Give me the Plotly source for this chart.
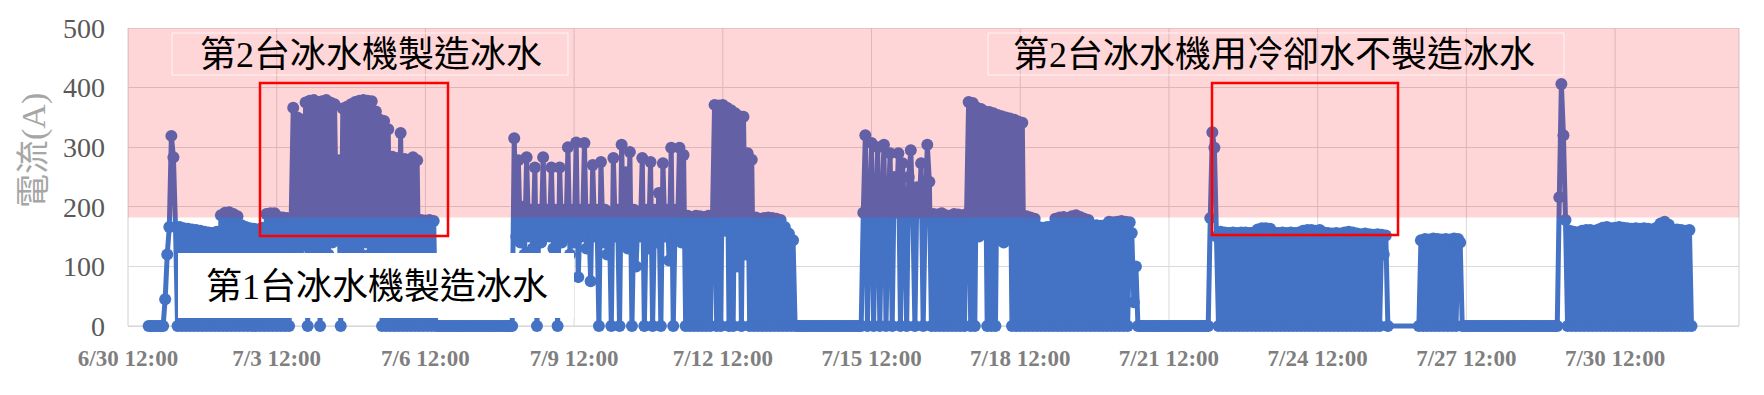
import pandas as pd
import plotly.graph_objects as go

# ---------------- data: hourly current (A) ----------------
# each list = one day of hourly readings (6/30 starts at 12:00); None = no data
d0630 = [None, None, None, None, None, None, None, None, None, None, 0, 0]
d0701 = [0, 0, 0, 0, 0, 0, 45, 120, 166, 319, 283, 166, 0, 166, 0, 164, 0, 163, 0, 162, 0, 161, 0, 160]
d0702 = [0, 158, 0, 157, 0, 156, 0, 158, 0, 186, 0, 190, 0, 191, 0, 188, 0, 184, 0, 169, 0, 166, 0, 164]
d0703 = [0, 163, 0, 162, 0, 165, 0, 188, 0, 189, 0, 189, 0, 183, 0, 182, 0, 181, 0, 180, 366, 120, 350, 130]
d0704 = [346, 140, 375, 0, 378, 120, 379, 110, 376, 0, 377, 130, 379, 120, 375, 140, 372, 150, 278, 0, 365, 130, 368, 120]
d0705 = [372, 130, 376, 110, 378, 120, 379, 140, 378, 120, 377, 130, 360, 100, 346, 0, 344, 0, 330, 0, 284, 0, 282, 0]
d0706 = [324, 0, 280, 0, 279, 0, 283, 0, 278, 0, 178, 0, 177, 0, 178, 0, 176, 0, 0, 0, 0, 0, 0, 0]
d0707 = [0, 0, 0, 0, 0, 0, 0, 0, 0, 0, 0, 0, 0, 0, 0, 0, 0, 0, 0, 0, 0, 0, 0, 0]
d0708 = [0, 0, 0, 0, 0, 0, 0, 315, 150, 278, 140, 200, 120, 283, 150, 195, 130, 266, 0, 195, 140, 283, 150, 195]
d0709 = [150, 266, 130, 195, 0, 266, 140, 195, 150, 300, 120, 195, 140, 308, 82, 195, 150, 307, 130, 195, 75, 270, 150, 195]
d0710 = [0, 275, 140, 195, 120, 190, 0, 282, 150, 195, 0, 304, 140, 258, 130, 292, 0, 195, 100, 190, 150, 282, 0, 195]
d0711 = [130, 275, 0, 195, 140, 223, 0, 273, 150, 195, 110, 299, 0, 195, 150, 299, 140, 287, 0, 185, 0, 183, 0, 185]
d0712 = [0, 184, 0, 183, 0, 185, 0, 184, 371, 0, 370, 0, 371, 160, 366, 0, 362, 0, 357, 100, 352, 0, 351, 120]
d0713 = [290, 0, 279, 0, 182, 0, 180, 0, 181, 0, 182, 0, 181, 0, 180, 0, 178, 0, 166, 0, 155, 0, 144, 0]
d0714 = [0, 0, 0, 0, 0, 0, 0, 0, 0, 0, 0, 0, 0, 0, 0, 0, 0, 0, 0, 0, 0, 0, 0, 0]
d0715 = [0, 0, 0, 0, 0, 0, 0, 0, 190, 320, 0, 190, 307, 0, 190, 300, 0, 195, 304, 0, 190, 290, 0, 250]
d0716 = [190, 290, 0, 273, 190, 0, 250, 295, 190, 0, 233, 190, 273, 0, 190, 304, 242, 0, 188, 0, 187, 0, 189, 0]
d0717 = [186, 0, 185, 0, 188, 0, 187, 0, 186, 0, 188, 376, 0, 374, 0, 366, 150, 364, 155, 360, 0, 359, 0, 357]
d0718 = [0, 354, 145, 352, 140, 350, 150, 348, 0, 346, 0, 343, 0, 341, 0, 184, 0, 182, 0, 180, 0, 166, 0, 165]
d0719 = [0, 166, 0, 167, 0, 180, 0, 182, 0, 183, 0, 181, 0, 184, 0, 186, 0, 183, 0, 180, 0, 178, 0, 169]
d0720 = [0, 169, 0, 168, 0, 169, 0, 175, 0, 174, 0, 175, 0, 176, 0, 175, 0, 174, 156, 40, 100, 0, 0, 0]
d0721 = [0, 0, 0, 0, 0, 0, 0, 0, 0, 0, 0, 0, 0, 0, 0, 0, 0, 0, 0, 0, 0, 0, 0, 0]
d0722 = [0, 0, 0, 0, 0, 0, 0, 0, 181, 325, 299, 150, 0, 158, 0, 157, 0, 156, 0, 157, 0, 156, 0, 157]
d0723 = [0, 157, 0, 156, 0, 157, 0, 162, 0, 164, 0, 164, 0, 163, 0, 157, 0, 156, 0, 157, 0, 156, 0, 157]
d0724 = [0, 156, 0, 157, 0, 160, 0, 161, 0, 161, 0, 160, 0, 161, 0, 157, 0, 156, 0, 155, 0, 156, 0, 155]
d0725 = [0, 157, 0, 158, 0, 157, 0, 155, 0, 154, 0, 155, 0, 154, 0, 153, 0, 154, 0, 153, 120, 152, 0, None]
d0726 = [None, None, None, None, None, None, None, None, None, None, None, None, None, 0, 144, 0, 146, 0, 145, 0, 147, 0, 146, 0]
d0727 = [145, 0, 146, 0, 145, 0, 147, 0, 146, 140, 0, 0, 0, 0, 0, 0, 0, 0, 0, 0, 0, 0, 0, 0]
d0728 = [0, 0, 0, 0, 0, 0, 0, 0, 0, 0, 0, 0, 0, 0, 0, 0, 0, 0, 0, 0, 0, 0, 0, 0]
d0729 = [0, 0, 0, 0, 0, 0, 0, 0, 0, 216, 406, 320, 178, 0, 160, 0, 158, 0, 157, 0, 160, 0, 161, 0]
d0730 = [161, 0, 160, 0, 162, 0, 165, 0, 166, 0, 164, 0, 165, 0, 166, 0, 165, 0, 164, 0, 163, 0, 164, 0]
d0731 = [163, 0, 164, 0, 163, 0, 162, 0, 165, 0, 172, 0, 175, 0, 170, 0, 161, 0, 162, 0, 161, 0, 160, 0]
d0801 = [161, 0]

tick_text = ["6/30 12:00", "7/3 12:00", "7/6 12:00", "7/9 12:00", "7/12 12:00", "7/15 12:00",
             "7/18 12:00", "7/21 12:00", "7/24 12:00", "7/27 12:00", "7/30 12:00"]
y_ticks = [0, 100, 200, 300, 400, 500]

label_2_make = "第2台冰水機製造冰水"
label_1_make = "第1台冰水機製造冰水"
label_2_cool = "第2台冰水機用冷卻水不製造冰水"
y_title = "電流(A)"

# ---------------- build series ----------------
days = [d0630, d0701, d0702, d0703, d0704, d0705, d0706, d0707, d0708, d0709, d0710,
        d0711, d0712, d0713, d0714, d0715, d0716, d0717, d0718, d0719, d0720, d0721,
        d0722, d0723, d0724, d0725, d0726, d0727, d0728, d0729, d0730, d0731, d0801]
values = [v for d in days for v in d]
start = pd.Timestamp("2023-06-30 12:00")
times = pd.date_range(start, periods=len(values), freq="h")
tick_vals = pd.date_range(start, periods=len(tick_text), freq="3D")
x_end = pd.Timestamp("2023-08-02 00:00")

# ---------------- layout geometry (pixels) ----------------
W, H = 1764, 395
PL, PR, PT = 128, 1739, 28
P0 = 326                      # pixel row of value 0 (visible frame bottom)
PPU = (P0 - PT) / 500.0       # pixels per ampere
EXTRA = 8                     # room below zero so the zero markers are not cut
PB = P0 + EXTRA               # bottom of the plotly plotting area
Y_LO, Y_HI = -EXTRA / PPU, 500


def fx(p):
    return (p - PL) / (PR - PL)


def fy(p):
    return (PB - p) / (PB - PT)


BLUE = "#4472C4"
GRID = "#D9D9D9"
FRAME = "#D0D0D0"
SERIF = "Liberation Serif, Noto Sans CJK TC"

fig = go.Figure()
fig.add_trace(go.Scatter(
    x=times, y=values, mode="lines+markers", connectgaps=True, cliponaxis=False,
    line=dict(color=BLUE, width=5, simplify=False),
    marker=dict(color=BLUE, size=12, line=dict(width=0)),
    showlegend=False, hoverinfo="skip",
))

shapes = []
# vertical grid lines limited to the 0..500 frame
for tv in tick_vals[1:]:
    shapes.append(dict(type="line", xref="x", yref="y", x0=tv, x1=tv, y0=0, y1=500,
                       line=dict(color=GRID, width=1), layer="below"))
# plot frame 0..500
shapes.append(dict(type="rect", xref="paper", yref="y", x0=0, x1=1, y0=0, y1=500,
                   fillcolor="rgba(0,0,0,0)", line=dict(color=FRAME, width=1), layer="below"))
shapes += [
    # pink translucent band over the high-current region
    dict(type="rect", xref="paper", yref="y", x0=0, x1=1, y0=182, y1=500,
         fillcolor="rgba(255,10,20,0.17)", line=dict(width=0), layer="above"),
    # white box behind the 1st chiller label
    dict(type="rect", xref="paper", yref="paper", x0=fx(178), x1=fx(574), y0=fy(318), y1=fy(253),
         fillcolor="white", line=dict(width=0), layer="above"),
    # faint frames of the top labels
    dict(type="rect", xref="paper", yref="paper", x0=fx(172), x1=fx(568), y0=fy(75), y1=fy(33),
         fillcolor="rgba(0,0,0,0)", line=dict(color="rgba(255,255,255,0.75)", width=1), layer="above"),
    dict(type="rect", xref="paper", yref="paper", x0=fx(988), x1=fx(1564), y0=fy(75), y1=fy(33),
         fillcolor="rgba(0,0,0,0)", line=dict(color="rgba(255,255,255,0.75)", width=1), layer="above"),
    # red highlight rectangles
    dict(type="rect", xref="paper", yref="paper", x0=fx(260), x1=fx(448), y0=fy(236), y1=fy(83),
         fillcolor="rgba(0,0,0,0)", line=dict(color="#FF0000", width=2.5), layer="above"),
    dict(type="rect", xref="paper", yref="paper", x0=fx(1212), x1=fx(1398), y0=fy(235), y1=fy(83),
         fillcolor="rgba(0,0,0,0)", line=dict(color="#FF0000", width=2.5), layer="above"),
]

annotations = [
    dict(text=label_2_make, xref="paper", yref="paper", x=fx(371), y=fy(55),
         xanchor="center", yanchor="middle", showarrow=False,
         font=dict(family=SERIF, size=36, color="#000000")),
    dict(text=label_1_make, xref="paper", yref="paper", x=fx(377), y=fy(287),
         xanchor="center", yanchor="middle", showarrow=False,
         font=dict(family=SERIF, size=36, color="#000000")),
    dict(text=label_2_cool, xref="paper", yref="paper", x=fx(1274), y=fy(55),
         xanchor="center", yanchor="middle", showarrow=False,
         font=dict(family=SERIF, size=36, color="#000000")),
    dict(text=y_title, xref="paper", yref="paper", x=fx(34), y=fy(151),
         xanchor="center", yanchor="middle", showarrow=False, textangle=-90,
         font=dict(family=SERIF, size=34, color="#A6A6A6")),
]

fig.update_layout(
    width=W, height=H,
    margin=dict(l=PL, r=W - PR, t=PT, b=H - PB, pad=0),
    paper_bgcolor="white", plot_bgcolor="white",
    shapes=shapes, annotations=annotations,
    xaxis=dict(
        range=[start, x_end], tickvals=list(tick_vals), ticktext=tick_text,
        showgrid=False, showline=False, zeroline=False,
        ticks="", ticklabelstandoff=8,
        tickfont=dict(family="Liberation Serif", size=23, color="#7F7F7F", weight="bold"),
    ),
    yaxis=dict(
        range=[Y_LO, Y_HI], tickvals=y_ticks,
        showgrid=True, gridcolor=GRID, gridwidth=1,
        showline=False, zeroline=False,
        ticks="", ticklabelstandoff=22,
        tickfont=dict(family="Liberation Serif", size=28, color="#595959"),
    ),
)

fig.write_html("out.html")
